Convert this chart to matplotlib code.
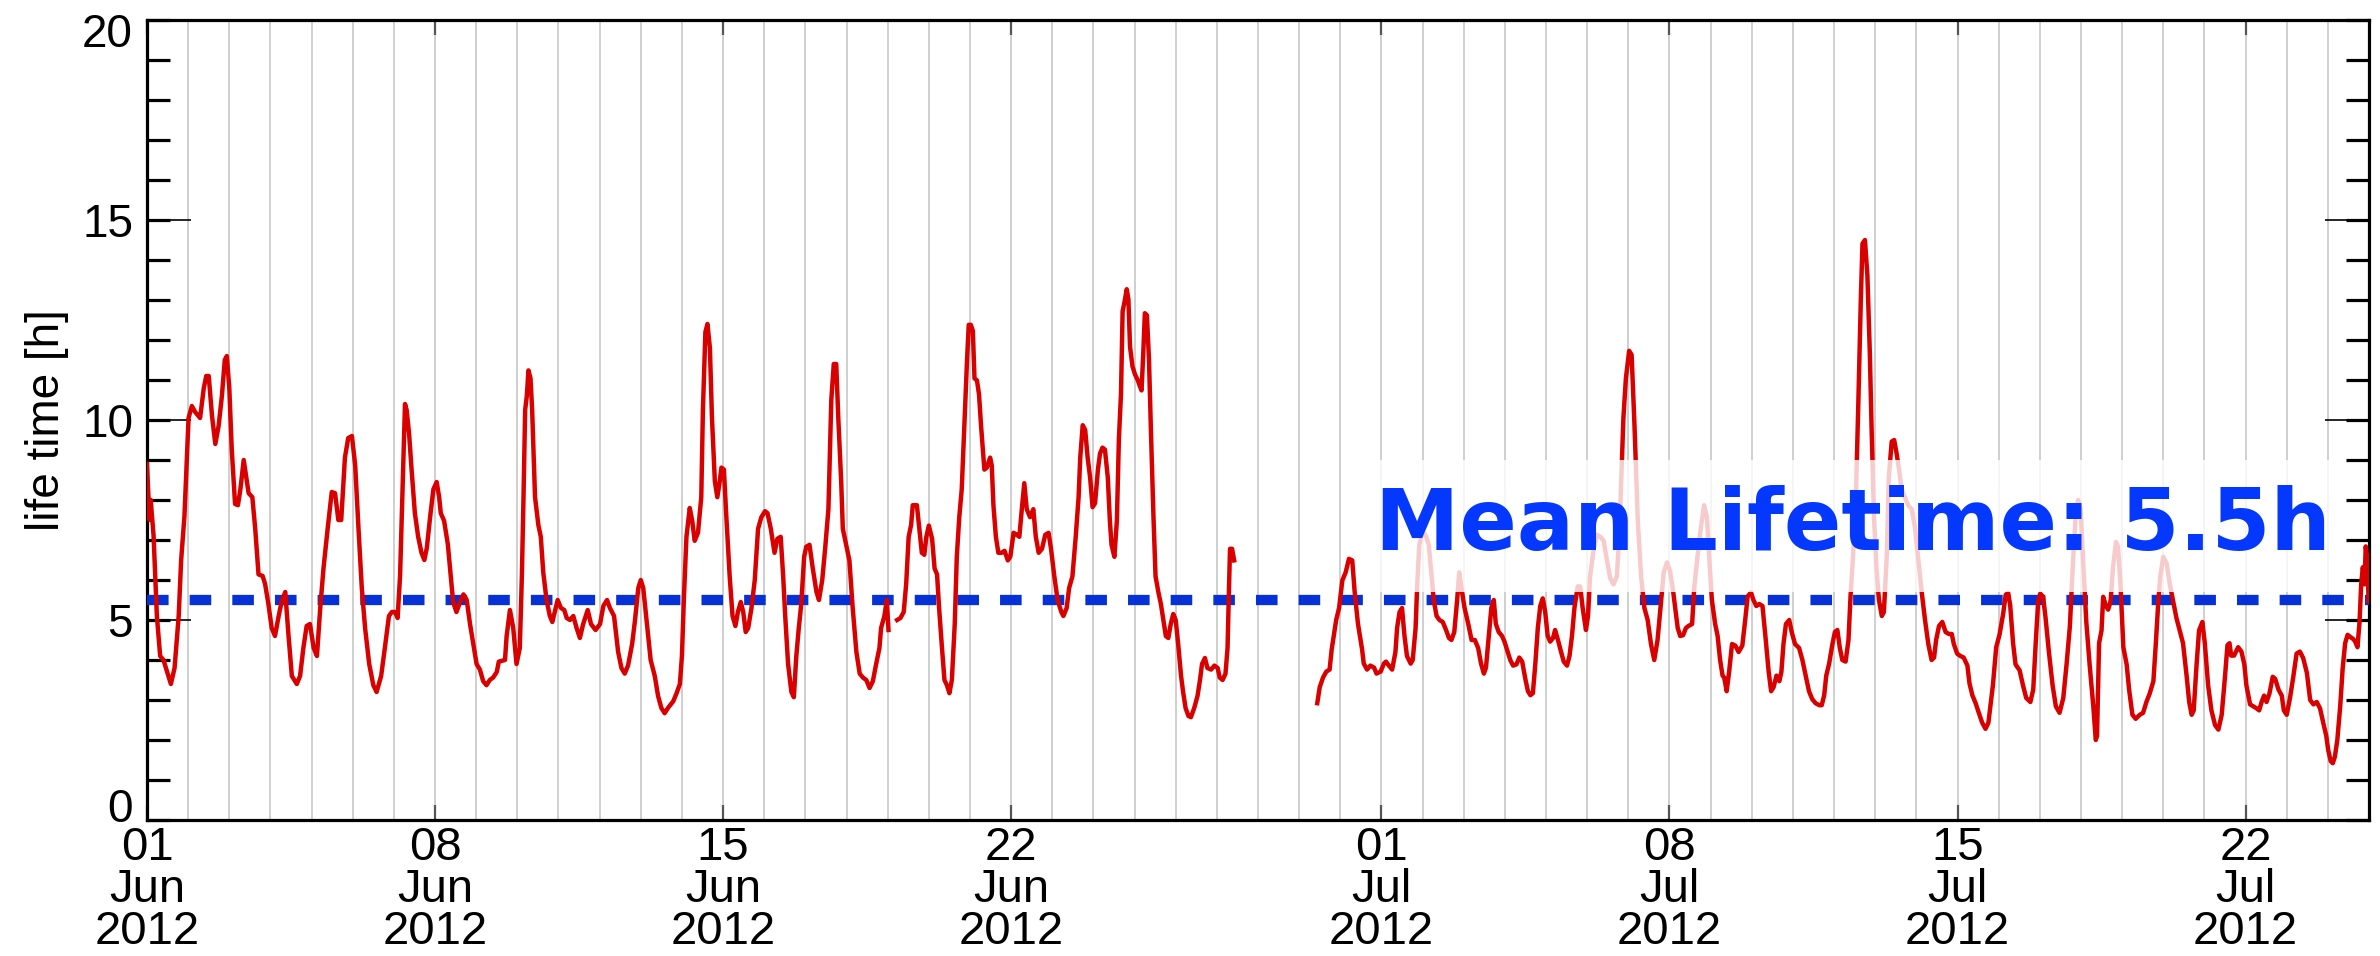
import numpy as np
import matplotlib
matplotlib.use('Agg')
import matplotlib.pyplot as plt
import matplotlib.dates as mdates
from matplotlib.patches import Rectangle
from matplotlib.ticker import MultipleLocator
from matplotlib.transforms import ScaledTranslation

plt.rcParams['font.family'] = ['Liberation Sans', 'DejaVu Sans']

start = np.datetime64('2012-06-01T00:00')

# life time in hours, time in days since 01 Jun 2012 (three runs, with data gaps between)
days_a = [0.00, 0.06, 0.09, 0.16, 0.24, 0.32, 0.40, 0.49, 0.58, 0.67, 0.77, 0.83, 0.91,
          1.01, 1.09, 1.17, 1.29, 1.38, 1.44, 1.50, 1.58, 1.66, 1.74, 1.82, 1.89, 1.94,
          2.00, 2.06, 2.14, 2.21, 2.27, 2.35, 2.40, 2.47, 2.56, 2.63, 2.71, 2.81, 2.87, 2.95,
          3.03, 3.11, 3.20, 3.28, 3.36, 3.44, 3.52, 3.64, 3.72, 3.80, 3.88, 3.96,
          4.05, 4.13, 4.21, 4.29, 4.39, 4.49, 4.57, 4.65, 4.72, 4.81, 4.89, 4.98,
          5.06, 5.14, 5.22, 5.30, 5.40, 5.50, 5.58, 5.69, 5.78, 5.88, 5.95,
          6.03, 6.09, 6.15, 6.21, 6.27, 6.31, 6.37, 6.43, 6.51, 6.59, 6.67, 6.74, 6.80, 6.88, 6.96,
          7.04, 7.10, 7.14, 7.22, 7.31, 7.39, 7.44, 7.52, 7.61, 7.69, 7.77, 7.85, 7.93,
          8.01, 8.09, 8.17, 8.25, 8.33, 8.41, 8.50, 8.55, 8.70, 8.74, 8.82, 8.90, 8.98,
          9.06, 9.11, 9.15, 9.19, 9.23, 9.27, 9.32, 9.36, 9.43, 9.51, 9.57, 9.63, 9.71, 9.79, 9.85, 9.91, 9.98,
          10.06, 10.14, 10.20, 10.28, 10.36, 10.44, 10.52, 10.60, 10.71, 10.79, 10.90,
          11.01, 11.09, 11.18, 11.25, 11.35, 11.45, 11.53, 11.61, 11.69, 11.79, 11.86, 11.94,
          12.00, 12.06, 12.11, 12.18, 12.24, 12.34, 12.42, 12.50, 12.58, 12.66, 12.79, 12.87, 12.95,
          13.00, 13.05, 13.11, 13.19, 13.25, 13.31, 13.39, 13.47, 13.51, 13.57, 13.62, 13.68, 13.73,
          13.80, 13.86, 13.92, 13.96, 14.02, 14.08, 14.16, 14.23, 14.30, 14.36, 14.43, 14.49, 14.55,
          14.61, 14.69, 14.77, 14.85, 14.93, 15.02, 15.08, 15.16, 15.25, 15.32, 15.40, 15.46, 15.51,
          15.58, 15.66, 15.72, 15.78, 15.84, 15.90, 15.97, 16.02, 16.10, 16.18, 16.27, 16.33, 16.41,
          16.48, 16.56, 16.63, 16.69, 16.75, 16.80, 16.87, 16.91, 16.99, 17.07, 17.15, 17.24, 17.32,
          17.40, 17.48, 17.56, 17.64, 17.72, 17.80, 17.84, 17.92, 17.98, 18.02]
life_a = [8.9, 7.5, 8.0, 7.1, 5.1, 4.1, 4.0, 3.7, 3.4, 3.8, 5.1, 6.5, 7.6,
          10.05, 10.35, 10.2, 10.05, 10.8, 11.1, 11.1, 10.1, 9.4, 9.85, 10.6, 11.5, 11.6,
          10.8, 9.26, 7.9, 7.87, 8.27, 9.0, 8.66, 8.17, 8.07, 7.28, 6.14, 6.1, 5.9, 5.4,
          4.8, 4.6, 5.1, 5.5, 5.7, 4.6, 3.6, 3.4, 3.6, 4.3, 4.85, 4.9,
          4.3, 4.1, 5.3, 6.3, 7.28, 8.2, 8.17, 7.5, 7.5, 9.06, 9.55, 9.6,
          8.86, 7.28, 5.8, 4.8, 3.9, 3.37, 3.2, 3.6, 4.3, 5.1, 5.2,
          5.2, 5.05, 6.1, 8.27, 10.4, 10.25, 9.65, 8.76, 7.67, 7.08, 6.68, 6.5, 6.8, 7.57, 8.27,
          8.45, 8.07, 7.67, 7.48, 6.9, 6.0, 5.45, 5.2, 5.45, 5.64, 5.5, 4.9, 4.4,
          3.9, 3.76, 3.47, 3.37, 3.5, 3.56, 3.7, 3.96, 4.0, 4.6, 5.25, 4.8, 3.9,
          4.3, 6.1, 8.07, 10.25, 10.6, 11.24, 11.04, 10.25, 8.07, 7.38, 7.08, 6.19, 5.5, 5.1, 4.95, 5.2, 5.5,
          5.3, 5.25, 5.05, 5.0, 5.1, 4.8, 4.55, 4.9, 5.25, 4.9, 4.75,
          4.9, 5.35, 5.5, 5.3, 5.1, 4.2, 3.8, 3.66, 3.86, 4.4, 5.0, 5.8,
          6.0, 5.8, 5.3, 4.6, 4.0, 3.6, 3.1, 2.8, 2.67, 2.8, 2.97, 3.17, 3.4,
          4.1, 5.6, 7.08, 7.8, 7.48, 6.98, 7.18, 8.07, 10.25, 12.2, 12.4, 11.8, 10.05,
          8.47, 8.07, 8.47, 8.81, 8.76, 7.57, 6.1, 5.1, 4.85, 5.2, 5.45, 5.2, 4.7,
          4.8, 5.3, 6.0, 7.28, 7.57, 7.72, 7.67, 7.28, 6.68, 7.03, 7.08, 6.1, 5.1,
          3.9, 3.2, 3.07, 4.1, 4.8, 5.4, 6.58, 6.83, 6.88, 6.29, 5.7, 5.5, 6.0,
          6.78, 7.77, 10.5, 11.4, 11.4, 10.05, 8.47, 7.28, 6.88, 6.49, 5.3, 4.2, 3.66,
          3.56, 3.5, 3.3, 3.47, 3.9, 4.3, 4.8, 5.1, 5.5, 4.75]

days_b = [18.23, 18.31, 18.39, 18.45, 18.51, 18.57, 18.61, 18.71, 18.77, 18.83, 18.89, 18.94,
          19.00, 19.08, 19.14, 19.20, 19.25, 19.32, 19.38, 19.44, 19.50, 19.56, 19.63, 19.68,
          19.74, 19.80, 19.87, 19.93, 19.97, 20.02, 20.07, 20.11, 20.17, 20.22, 20.27, 20.35,
          20.41, 20.49, 20.53, 20.57, 20.63, 20.69, 20.77, 20.84, 20.92, 20.98, 21.06, 21.14,
          21.20, 21.26, 21.32, 21.38, 21.46, 21.54, 21.60, 21.67, 21.75, 21.83, 21.91, 21.97,
          22.05, 22.13, 22.22, 22.27, 22.35, 22.41, 22.49, 22.57, 22.64, 22.68, 22.74, 22.80,
          22.86, 22.92, 22.98, 23.04, 23.11, 23.16, 23.22, 23.28, 23.35, 23.40, 23.44, 23.51,
          23.57, 23.62, 23.67, 23.71, 23.75, 23.81, 23.85, 23.89, 23.95, 24.01, 24.08, 24.13,
          24.17, 24.21, 24.25, 24.30, 24.35, 24.40, 24.46, 24.51, 24.58, 24.64, 24.70, 24.76,
          24.82, 24.88, 24.94, 25.00, 25.06, 25.13, 25.18, 25.24, 25.31, 25.37, 25.45, 25.53,
          25.59, 25.64, 25.71, 25.77, 25.86, 25.94, 26.02, 26.07, 26.14, 26.21, 26.26, 26.29,
          26.32, 26.37, 26.42]
life_b = [5.0, 5.05, 5.2, 5.9, 7.08, 7.38, 7.87, 7.87, 7.28, 6.68, 6.63, 7.08,
          7.36, 7.03, 6.29, 6.14, 5.3, 4.3, 3.5, 3.37, 3.17, 3.5, 4.9, 6.58,
          7.57, 8.27, 10.05, 11.53, 12.38, 12.38, 12.23, 11.04, 10.99, 10.64, 9.85, 8.76,
          8.81, 9.06, 8.86, 7.87, 7.08, 6.68, 6.68, 6.73, 6.49, 6.58, 7.18, 7.13,
          7.08, 7.77, 8.42, 7.77, 7.57, 7.77, 7.08, 6.68, 6.78, 7.13, 7.18, 6.78,
          6.09, 5.5, 5.2, 5.1, 5.3, 5.8, 6.09, 7.08, 8.07, 9.06, 9.87, 9.75,
          9.06, 8.56, 7.82, 7.92, 8.76, 9.16, 9.31, 9.26, 8.56, 7.48, 6.88, 6.58,
          7.48, 9.55, 10.64, 12.72, 12.92, 13.27, 13.02, 11.83, 11.34, 11.14, 10.99, 10.84,
          10.74, 11.63, 12.67, 12.62, 11.53, 9.65, 7.57, 6.09, 5.69, 5.4, 5.0, 4.6,
          4.55, 4.9, 5.15, 5.0, 4.4, 3.6, 3.2, 2.8, 2.6, 2.57, 2.8, 3.1,
          3.5, 3.9, 4.05, 3.8, 3.76, 3.86, 3.8, 3.56, 3.5, 3.66, 4.3, 5.6,
          6.78, 6.78, 6.49]

days_c = [28.44, 28.50, 28.58, 28.66, 28.74, 28.79, 28.84, 28.90, 28.97, 29.05, 29.13, 29.21,
          29.29, 29.35, 29.43, 29.53, 29.57, 29.65, 29.73, 29.82, 29.88, 29.98, 30.06, 30.11,
          30.18, 30.26, 30.34, 30.38, 30.44, 30.50, 30.56, 30.62, 30.71, 30.76, 30.83, 30.87,
          30.92, 30.99, 31.07, 31.15, 31.22, 31.27, 31.34, 31.41, 31.49, 31.57, 31.64, 31.70,
          31.77, 31.84, 31.89, 31.96, 32.02, 32.11, 32.19, 32.27, 32.35, 32.42, 32.49, 32.54,
          32.61, 32.67, 32.73, 32.78, 32.85, 32.93, 32.99, 33.05, 33.13, 33.20, 33.28, 33.35,
          33.42, 33.50, 33.56, 33.62, 33.68, 33.74, 33.80, 33.86, 33.92, 33.98, 34.04, 34.10,
          34.17, 34.22, 34.29, 34.35, 34.43, 34.51, 34.57, 34.63, 34.69, 34.77, 34.83, 34.89,
          34.97, 35.02, 35.07, 35.16, 35.24, 35.32, 35.40, 35.48, 35.56, 35.64, 35.72, 35.78,
          35.83, 35.88, 35.94, 36.02, 36.08, 36.15, 36.23, 36.31, 36.39, 36.47, 36.55, 36.63,
          36.71, 36.79, 36.86, 36.94, 37.01, 37.08, 37.14, 37.20, 37.26, 37.33, 37.40, 37.46,
          37.55, 37.60, 37.68, 37.76, 37.84, 37.91, 37.97, 38.03, 38.11, 38.17, 38.23, 38.29,
          38.33, 38.39, 38.45, 38.52, 38.60, 38.68, 38.77, 38.84, 38.90, 38.98, 39.04, 39.11,
          39.18, 39.26, 39.34, 39.41, 39.47, 39.53, 39.60, 39.67, 39.72, 39.77, 39.83, 39.91,
          39.97, 40.05, 40.15, 40.23, 40.31, 40.39, 40.47, 40.55, 40.64, 40.70, 40.76, 40.81,
          40.88, 40.96, 41.02, 41.08, 41.14, 41.20, 41.28, 41.35, 41.40, 41.46, 41.53, 41.59,
          41.65, 41.69, 41.75, 41.81, 41.87, 41.91, 41.97, 42.03, 42.09, 42.16, 42.21, 42.28,
          42.33, 42.40, 42.46, 42.52, 42.58, 42.64, 42.72, 42.80, 42.89, 42.97, 43.05, 43.13,
          43.21, 43.29, 43.37, 43.43, 43.48, 43.55, 43.63, 43.71, 43.79, 43.86, 43.91, 43.99,
          44.07, 44.15, 44.24, 44.29, 44.36, 44.44, 44.52, 44.60, 44.68, 44.75, 44.86, 44.94,
          45.02, 45.11, 45.17, 45.23, 45.28, 45.35, 45.41, 45.51, 45.59, 45.67, 45.77, 45.84,
          45.90, 45.96, 46.01, 46.08, 46.14, 46.22, 46.31, 46.39, 46.48, 46.57, 46.65, 46.73,
          46.81, 46.87, 46.93, 46.99, 47.05, 47.13, 47.21, 47.30, 47.36, 47.39, 47.44, 47.50,
          47.54, 47.60, 47.66, 47.72, 47.78, 47.85, 47.90, 47.96, 48.03, 48.11, 48.17, 48.25,
          48.33, 48.43, 48.51, 48.59, 48.67, 48.76, 48.82, 48.88, 48.93, 49.00, 49.08, 49.16,
          49.24, 49.32, 49.40, 49.48, 49.57, 49.63, 49.69, 49.74, 49.81, 49.87, 49.95, 50.01,
          50.09, 50.17, 50.26, 50.34, 50.42, 50.50, 50.56, 50.61, 50.65, 50.72, 50.82, 50.90,
          50.97, 51.02, 51.11, 51.19, 51.27, 51.33, 51.39, 51.45, 51.51, 51.58, 51.66, 51.72,
          51.80, 51.88, 51.93, 52.00, 52.08, 52.16, 52.24, 52.32, 52.40, 52.49, 52.57, 52.65,
          52.73, 52.81, 52.89, 52.96, 53.01, 53.07, 53.12, 53.17, 53.23, 53.30, 53.36, 53.42,
          53.48, 53.54, 53.61, 53.66, 53.72, 53.77, 53.81, 53.85, 53.89, 53.92, 53.96, 53.99]
life_c = [2.92, 3.32, 3.56, 3.71, 3.76, 4.26, 4.6, 5.0, 5.3, 5.99, 6.19, 6.53,
          6.49, 5.69, 4.9, 4.26, 3.91, 3.76, 3.86, 3.81, 3.66, 3.71, 3.91, 3.96,
          3.86, 3.76, 4.2, 4.8, 5.2, 5.3, 4.6, 4.1, 3.91, 4.0, 4.8, 5.9,
          6.88, 7.18, 7.13, 6.88, 6.09, 5.5, 5.1, 5.0, 4.95, 4.75, 4.55, 4.5,
          4.7, 5.5, 6.19, 5.69, 5.3, 4.9, 4.5, 4.5, 4.3, 3.91, 3.66, 3.81,
          4.6, 5.3, 5.5, 4.9, 4.7, 4.6, 4.46, 4.26, 4.0, 3.86, 3.89, 4.06,
          3.96, 3.51, 3.22, 3.12, 3.17, 3.91, 4.8, 5.35, 5.54, 5.2, 4.6, 4.46,
          4.55, 4.75, 4.5, 4.26, 3.96, 3.86, 4.1, 4.6, 5.3, 5.84, 5.84, 5.3,
          4.75, 5.1, 6.09, 6.78, 7.13, 7.08, 6.98, 6.49, 6.04, 5.89, 6.09, 7.08,
          8.56, 10.05, 11.04, 11.73, 11.63, 9.85, 7.48, 6.09, 5.3, 5.0, 4.4, 4.0,
          4.5, 5.4, 6.19, 6.44, 6.24, 5.79, 5.3, 4.8, 4.6, 4.62, 4.8, 4.85,
          4.9, 5.79, 6.58, 7.28, 7.87, 7.57, 6.49, 5.5, 4.9, 4.6, 4.0, 3.61,
          3.56, 3.22, 3.71, 4.4, 4.36, 4.2, 4.36, 5.0, 5.59, 5.69, 5.5, 5.35,
          5.4, 5.35, 4.5, 3.71, 3.22, 3.32, 3.61, 3.47, 3.71, 4.4, 4.9, 5.0,
          4.7, 4.4, 4.3, 4.0, 3.61, 3.22, 3.02, 2.92, 2.87, 2.87, 3.12, 3.61,
          3.91, 4.4, 4.7, 4.75, 4.3, 4.0, 3.96, 4.5, 5.59, 6.58, 8.07, 10.45,
          13.02, 14.41, 14.5, 13.61, 11.63, 9.85, 7.57, 6.29, 5.5, 5.1, 5.2, 6.58,
          8.56, 9.46, 9.5, 9.16, 8.76, 8.27, 8.07, 7.87, 7.77, 7.28, 6.49, 5.69,
          5.0, 4.4, 4.0, 4.06, 4.5, 4.85, 4.95, 4.7, 4.65, 4.65, 4.4, 4.16,
          4.1, 4.06, 3.86, 3.42, 3.12, 2.92, 2.67, 2.43, 2.28, 2.43, 3.37, 4.32,
          4.63, 5.16, 5.63, 5.68, 5.37, 4.42, 3.89, 3.74, 3.37, 3.05, 2.95, 3.26,
          4.42, 5.47, 5.66, 5.58, 5.05, 4.21, 3.37, 2.84, 2.68, 3.05, 3.89, 4.84,
          6.53, 7.58, 8.0, 7.79, 6.53, 4.95, 3.89, 2.84, 2.0, 2.1, 4.42, 4.74,
          5.58, 5.37, 5.26, 5.47, 6.32, 6.95, 6.84, 5.89, 4.32, 3.89, 3.26, 2.63,
          2.53, 2.63, 2.68, 2.95, 3.16, 3.47, 4.42, 5.47, 6.11, 6.58, 6.42, 5.89,
          5.47, 5.05, 4.74, 4.42, 3.58, 2.95, 2.63, 2.74, 3.89, 4.74, 4.95, 4.42,
          3.37, 2.74, 2.37, 2.26, 2.63, 3.58, 4.37, 4.42, 4.11, 4.11, 4.32, 4.21,
          3.89, 3.37, 2.89, 2.84, 2.79, 2.74, 2.95, 3.11, 2.95, 3.16, 3.58, 3.53,
          3.26, 3.11, 2.74, 2.63, 3.05, 3.58, 4.16, 4.21, 4.05, 3.68, 3.0, 2.89,
          2.95, 2.79, 2.42, 2.11, 1.74, 1.47, 1.42, 1.58, 2.0, 2.84, 3.79, 4.42,
          4.63, 4.58, 4.53, 4.47, 4.32, 4.95, 5.89, 6.32, 5.89, 6.84, 6.53, 5.47]

mean_lifetime = 5.5
y_ticks = [0, 5, 10, 15, 20]
tick_dates = ['2012-06-01', '2012-06-08', '2012-06-15', '2012-06-22',
              '2012-07-01', '2012-07-08', '2012-07-15', '2012-07-22']
x_end = '2012-07-25'


def to_time(days):
    sec = np.round(np.asarray(days) * 86400).astype('int64')
    return start + sec.astype('timedelta64[s]')


fig = plt.figure(figsize=(23.8, 9.56), dpi=100)
ax = fig.add_axes([147 / 2380, 1 - 820 / 956, (2369 - 147) / 2380, 800 / 956])

for d, v in [(days_a, life_a), (days_b, life_b), (days_c, life_c)]:
    ax.plot(to_time(d), v, color='#d90000', lw=3.2, solid_joinstyle='round', zorder=4)

ax.axhline(mean_lifetime, color='#0531d6', lw=7.4, dashes=(2.1, 2.05), zorder=3)

# white veil behind the mean label
x0 = mdates.date2num(to_time(29.9))
x1 = mdates.date2num(to_time(53.4))
ax.add_patch(Rectangle((x0, 5.7), x1 - x0, 3.3, facecolor='white', edgecolor='none',
                       alpha=0.8, zorder=5))
ax.text(mdates.date2num(to_time(29.85)), 6.76, 'Mean Lifetime: %.1fh' % mean_lifetime,
        fontsize=61, family='DejaVu Sans', fontweight='bold', color='#0538ff',
        ha='left', va='baseline', zorder=6)

ax.set_xlim(np.datetime64(tick_dates[0]), np.datetime64(x_end))
ax.set_ylim(0, 20)

ticks = [np.datetime64(t) for t in tick_dates]
ax.set_xticks(ticks)
ax.set_xticklabels([t.astype(object).strftime('%d\n%b\n%Y') for t in ticks],
                   linespacing=0.95)
ax.xaxis.set_minor_locator(mdates.DayLocator())
ax.tick_params(axis='x', which='major', direction='in', length=11, width=1.6, color='#555555',
               top=True, bottom=True, labelsize=34, pad=4)
ax.tick_params(axis='x', which='minor', length=0)
ax.grid(True, axis='x', which='both', color='#cbcbcb', lw=1.3)
ax.set_axisbelow(True)

ax.set_yticks(y_ticks)
ax.set_yticklabels([str(v) for v in y_ticks])
ax.yaxis.set_minor_locator(MultipleLocator(1))
ax.yaxis.remove_overlapping_locs = False
ax.tick_params(axis='y', which='major', direction='in', length=32, width=1.2,
               left=True, right=True, labelsize=33, pad=10)
ax.tick_params(axis='y', which='minor', direction='in', length=16.5, width=2.3,
               left=True, right=True)

# keep the end labels of the y axis inside the frame
yt = ax.yaxis.get_major_ticks()
yt[0].label1.set_transform(yt[0].label1.get_transform()
                           + ScaledTranslation(0, 11 / 72, fig.dpi_scale_trans))
yt[-1].label1.set_transform(yt[-1].label1.get_transform()
                            + ScaledTranslation(0, -7 / 72, fig.dpi_scale_trans))

for s in ax.spines.values():
    s.set_linewidth(2.3)

ax.set_ylabel('life time [h]', fontsize=33)
ax.yaxis.set_label_coords(-0.035, 0.5)

fig.savefig('out.png', dpi=100)
